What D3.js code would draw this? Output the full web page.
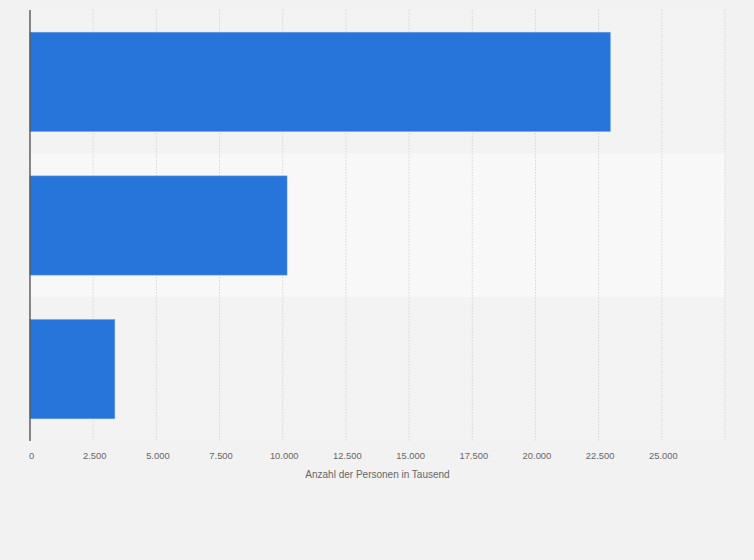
<!DOCTYPE html>
<html lang="de">
<head>
    <meta charset="utf-8">
    <script src="https://cdn.jsdelivr.net/npm/d3@7"></script>
    <style>
        body {
            margin: 0;
            background: #f2f2f2;
        }

        .x .tick text {
            font: 9.4px "Liberation Sans", Arial, sans-serif;
            fill: #666;
        }

        .x path, .x line {
            display: none;
        }

        .grid line {
            stroke: #d6d6d6;
            stroke-dasharray: 1.5, 1.5;
        }

        .bar {
            fill: #2775db;
            stroke: #5e9ae8;
            stroke-width: 0.6;
        }

        .axis-title {
            font: 10px "Liberation Sans", Arial, sans-serif;
            fill: #666;
        }
    </style>
</head>
<body>
<div id="chart"></div>

<script>
    // data
    var categories = ["Kategorie 1", "Kategorie 2", "Kategorie 3"];
    var values = [22960, 10170, 3355];
    var tickValues = [0, 2500, 5000, 7500, 10000, 12500, 15000, 17500, 20000, 22500, 25000];
    var gridValues = [0, 2500, 5000, 7500, 10000, 12500, 15000, 17500, 20000, 22500, 25000, 27500];
    var xTitle = "Anzahl der Personen in Tausend";

    var W = 754, H = 560;
    var margin = {top: 10, right: 29, bottom: 119, left: 30};
    var width = W - margin.left - margin.right;
    var height = H - margin.top - margin.bottom;

    var svg = d3.select("#chart").append("svg")
        .attr("width", W)
        .attr("height", H)
        .append("g")
        .attr("transform", "translate(" + margin.left + "," + margin.top + ")");

    var x = d3.scaleLinear()
        .domain([0, 27500])
        .range([0, width]);

    var y = d3.scaleBand()
        .domain(categories)
        .range([0, height]);

    // alternating band stripes
    svg.selectAll(".stripe")
        .data(categories)
        .enter().append("rect")
        .attr("class", "stripe")
        .attr("x", 0)
        .attr("y", function (d) { return y(d); })
        .attr("width", width)
        .attr("height", y.bandwidth())
        .attr("fill", function (d, i) { return i % 2 ? "#f8f8f8" : "#f3f3f3"; });

    // vertical grid
    svg.append("g")
        .attr("class", "grid")
        .selectAll("line")
        .data(gridValues.slice(1))
        .enter().append("line")
        .attr("x1", function (d) { return x(d); })
        .attr("x2", function (d) { return x(d); })
        .attr("y1", 0)
        .attr("y2", height);

    // bars
    var inner = d3.scaleBand()
        .domain(categories)
        .range([0, height])
        .paddingInner(0.31)
        .paddingOuter(0.155);

    svg.selectAll(".bar")
        .data(values)
        .enter().append("rect")
        .attr("class", "bar")
        .attr("x", x(0))
        .attr("y", function (d, i) { return inner(categories[i]); })
        .attr("width", function (d) { return x(d) - x(0); })
        .attr("height", inner.bandwidth());

    // y axis line, no labels
    svg.append("line")
        .attr("x1", 0).attr("x2", 0)
        .attr("y1", 0).attr("y2", height)
        .attr("stroke", "#555")
        .attr("stroke-width", 1.4);

    // x axis
    svg.append("g")
        .attr("class", "x axis")
        .attr("transform", "translate(1," + (height + 8) + ")")
        .call(d3.axisBottom(x)
            .tickValues(tickValues)
            .tickFormat(function (d) { return d3.format(",")(d).replace(/,/g, "."); })
            .tickSize(0));

    svg.append("text")
        .attr("class", "axis-title")
        .attr("x", width / 2)
        .attr("y", height + 37)
        .attr("text-anchor", "middle")
        .text(xTitle);
</script>
</body>
</html>
